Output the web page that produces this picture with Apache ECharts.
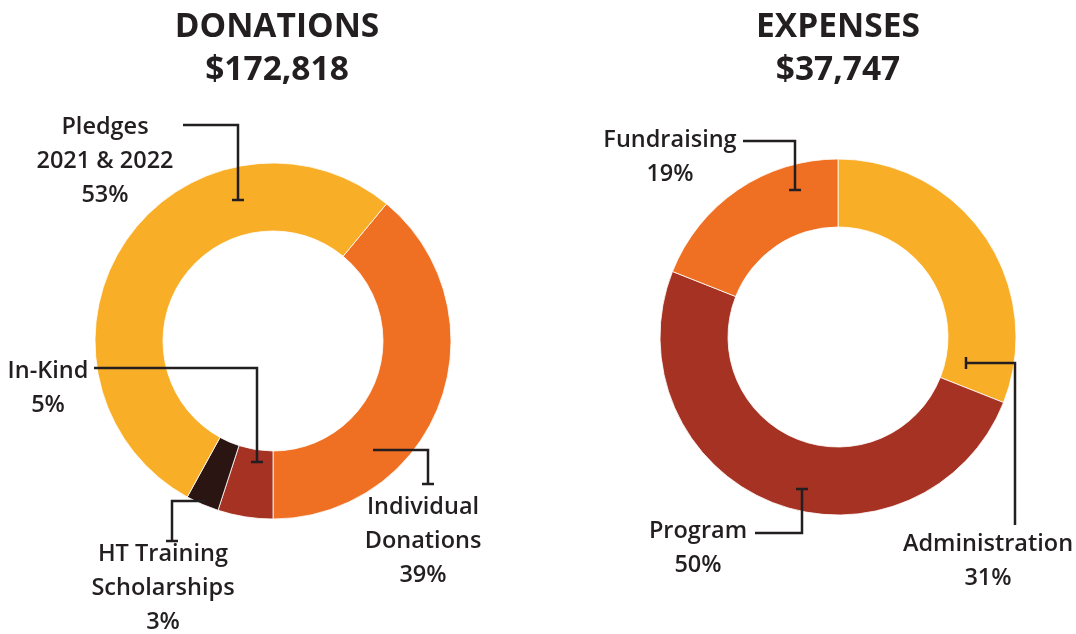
<!DOCTYPE html>
<html>
<head>
<meta charset="utf-8">
<script src="https://cdn.jsdelivr.net/npm/echarts@6/dist/echarts.min.js"></script>
<style>
	html, body { margin: 0; padding: 0; background: #fff; }
	#chart { width: 1076px; height: 634px; }
</style>
</head>
<body>
<div id="chart"></div>
<script>
// data
var chartTitles = ['DONATIONS', 'EXPENSES'];
var chartTotals = ['$172,818', '$37,747'];

var donationNames = ['Individual\nDonations', 'In-Kind', 'HT Training\nScholarships', 'Pledges\n2021 & 2022'];
var donationValues = [39, 5, 3, 53];
var donationColors = ['#ef7023', '#a53222', '#2b1513', '#f9ae28'];

var expenseNames = ['Administration', 'Program', 'Fundraising'];
var expenseValues = [31, 50, 19];
var expenseColors = ['#f9ae28', '#a53222', '#ef7023'];

// label anchors (layout only)
var donationLabelPos = [[423, 541], [48, 388], [163, 588], [105, 161]];
var expenseLabelPos = [[988, 561], [698, 548], [670, 157]];

// leader lines: polyline points, last point gets a cap ('h' = horizontal cap, 'v' = vertical cap)
var leaders = [
	{pts: [[183, 125], [238, 125], [238, 200]], cap: 'h'},
	{pts: [[94, 368], [257, 368], [257, 462]], cap: 'h'},
	{pts: [[205, 501], [172, 501], [172, 541]], cap: 'h'},
	{pts: [[373, 450], [428, 450], [428, 484]], cap: 'h'},
	{pts: [[743, 141], [795, 141], [795, 190]], cap: 'h'},
	{pts: [[755, 533], [802, 533], [802, 489]], cap: 'h'},
	{pts: [[1015, 525], [1015, 363], [966, 363]], cap: 'v'}
];

var textColor = '#231f20';
var fontFamily = '"Open Sans", "Noto Sans", sans-serif';

var myChart = echarts.init(document.getElementById('chart'));

function toData(names, values, colors) {
	var out = [];
	for (var i = 0; i < names.length; i++) {
		out.push({name: names[i], value: values[i], itemStyle: {color: colors[i]}});
	}
	return out;
}

var graphics = [];
leaders.forEach(function (l) {
	graphics.push({
		type: 'polyline',
		z: 100,
		shape: {points: l.pts},
		style: {stroke: textColor, lineWidth: 2.5, fill: null},
		silent: true
	});
	var end = l.pts[l.pts.length - 1];
	var capShape = l.cap === 'h'
		? {x1: end[0] - 6, y1: end[1], x2: end[0] + 6, y2: end[1]}
		: {x1: end[0], y1: end[1] - 6, x2: end[0], y2: end[1] + 6};
	graphics.push({
		type: 'line',
		z: 100,
		shape: capShape,
		style: {stroke: textColor, lineWidth: 2.5},
		silent: true
	});
});

var labelStyle = {
	show: true,
	color: textColor,
	fontFamily: fontFamily,
	fontWeight: 600,
	fontSize: 23.5,
	lineHeight: 34,
	align: 'center',
	formatter: function (p) {
		return p.name + '\n' + p.value + '%';
	}
};

var option = {
	animation: false,
	title: [0, 1].map(function (i) {
		return {
			text: chartTitles[i] + '\n' + chartTotals[i],
			left: i === 0 ? 272 : 833,
			top: 1,
			textAlign: 'center',
			textStyle: {
				color: textColor,
				fontFamily: fontFamily,
				fontWeight: 700,
				fontSize: 33.5,
				lineHeight: 43
			}
		};
	}),
	graphic: graphics,
	series: [
		{
			type: 'pie',
			center: [273, 341],
			radius: [110, 178],
			startAngle: 50.4,
			clockwise: true,
			avoidLabelOverlap: false,
			silent: true,
			itemStyle: {borderColor: '#fff', borderWidth: 0.8},
			label: labelStyle,
			labelLine: {show: false},
			labelLayout: function (p) {
				var pos = donationLabelPos[p.dataIndex];
				return {x: pos[0], y: pos[1], align: 'center', verticalAlign: 'middle'};
			},
			data: toData(donationNames, donationValues, donationColors)
		},
		{
			type: 'pie',
			center: [838, 337],
			radius: [110, 178],
			startAngle: 90,
			clockwise: true,
			avoidLabelOverlap: false,
			silent: true,
			itemStyle: {borderColor: '#fff', borderWidth: 0.8},
			label: labelStyle,
			labelLine: {show: false},
			labelLayout: function (p) {
				var pos = expenseLabelPos[p.dataIndex];
				return {x: pos[0], y: pos[1], align: 'center', verticalAlign: 'middle'};
			},
			data: toData(expenseNames, expenseValues, expenseColors)
		}
	]
};

myChart.setOption(option);
window.addEventListener('resize', myChart.resize);
</script>
</body>
</html>
